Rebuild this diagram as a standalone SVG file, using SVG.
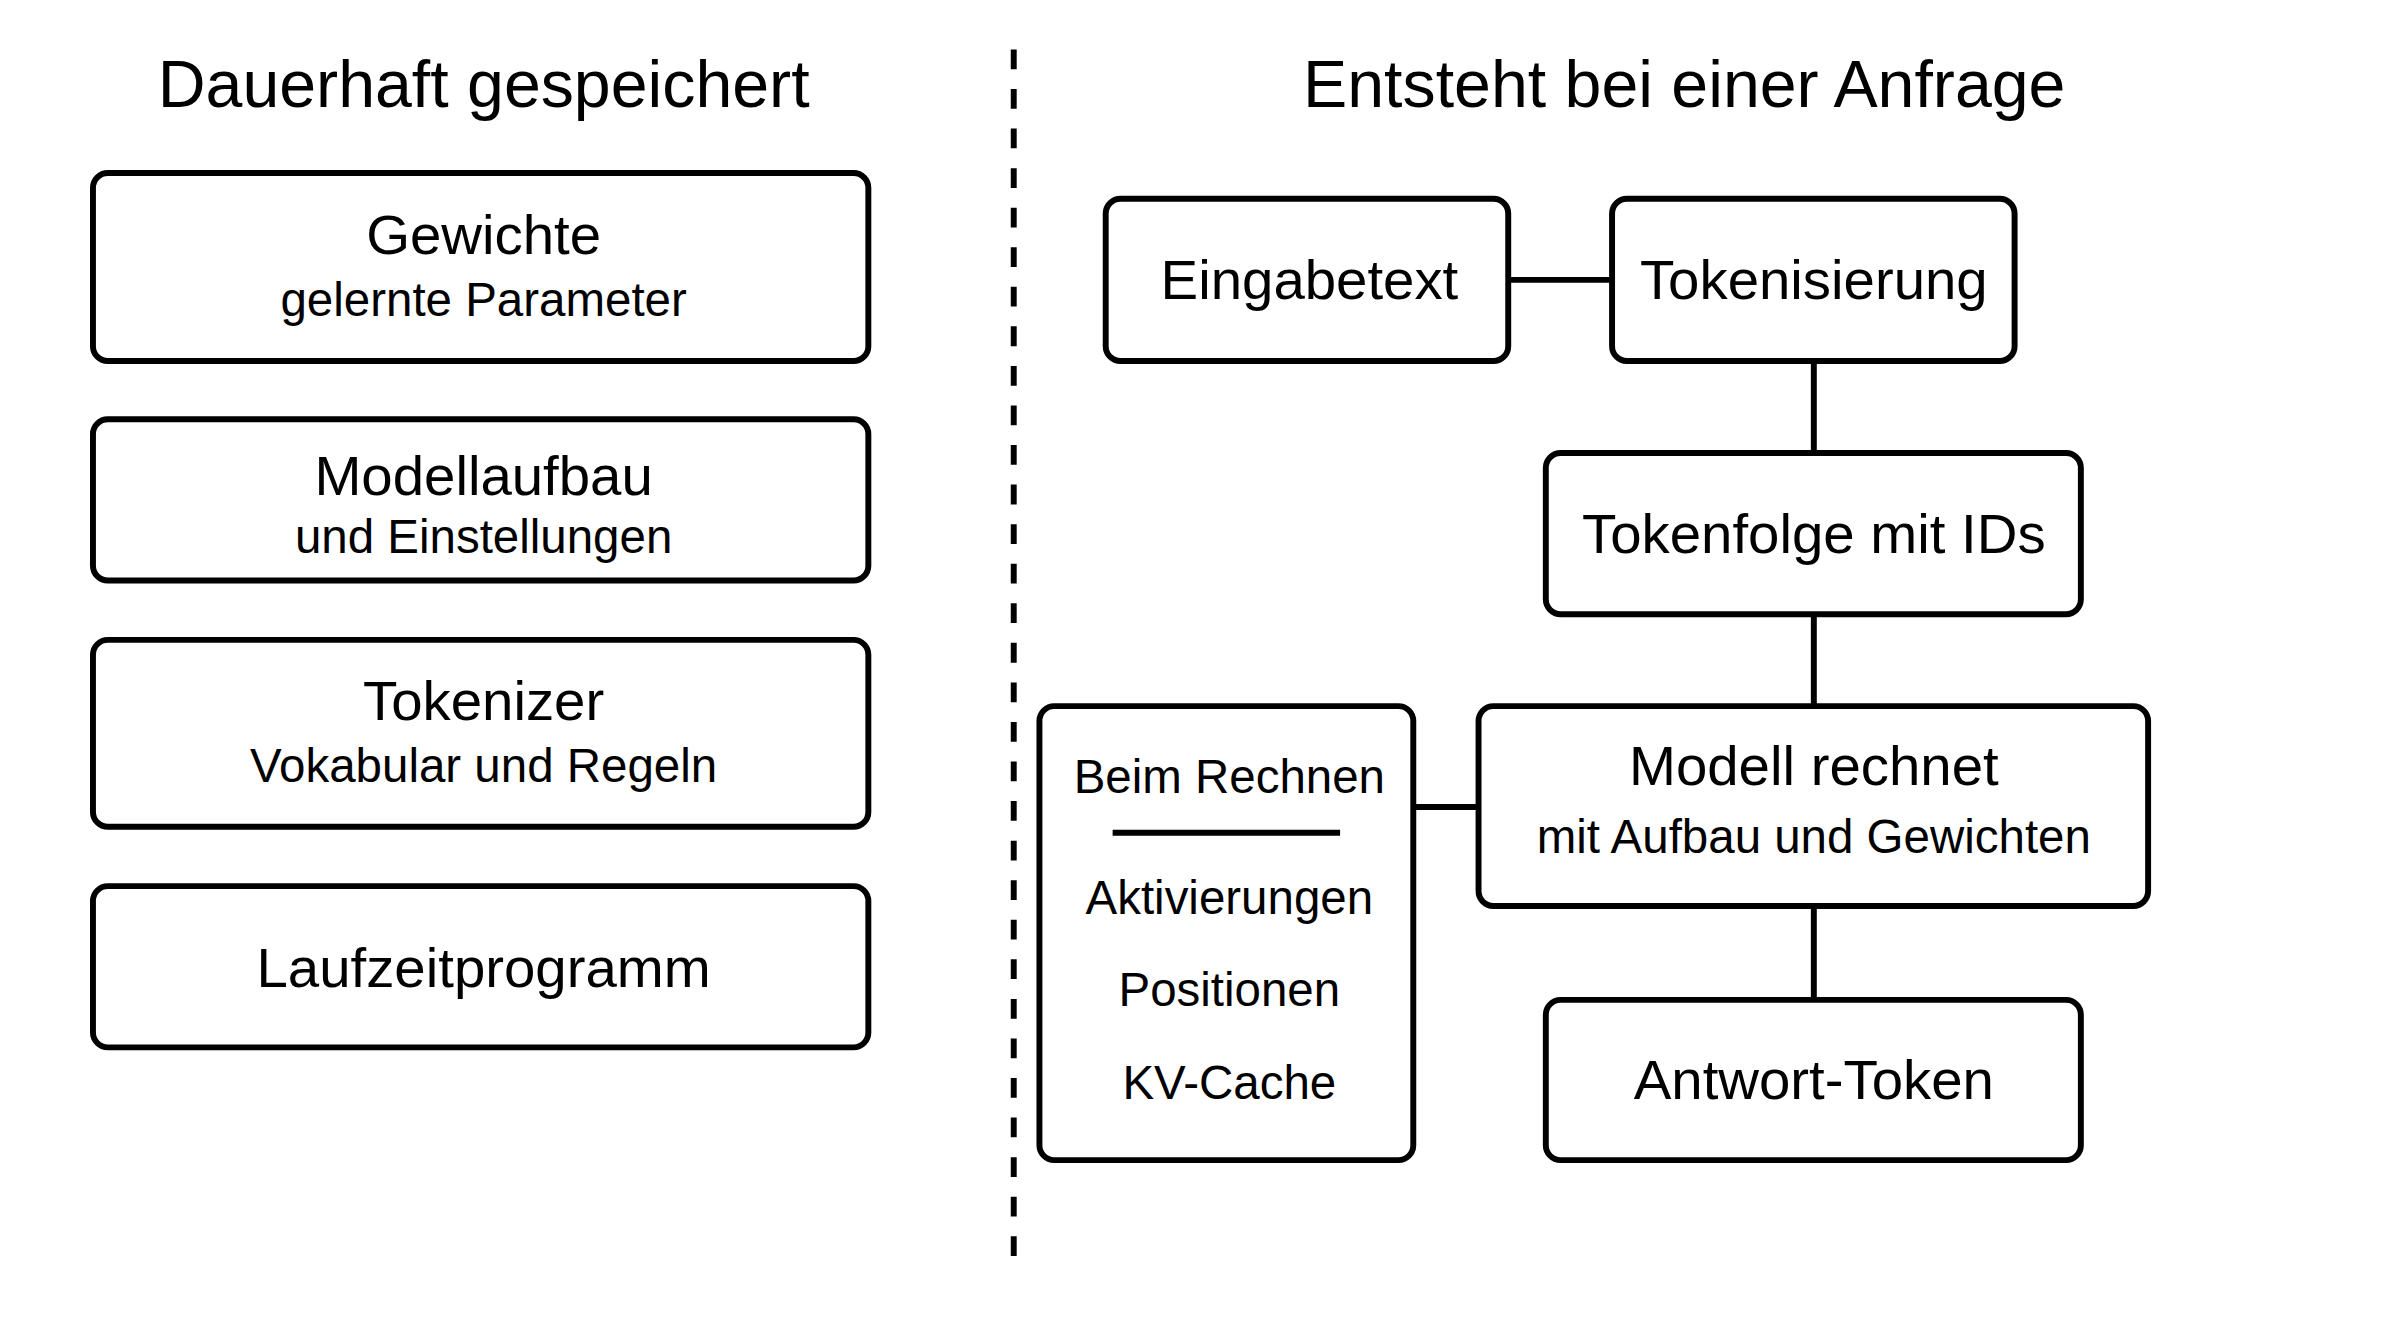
<svg xmlns="http://www.w3.org/2000/svg" width="2400" height="1333" viewBox="0 0 2400 1333">
<style>
text{font-family:"Liberation Sans",Arial,sans-serif;fill:#000;text-anchor:middle}
.t{font-size:67px}.m{font-size:57px}.s{font-size:48px}.r{font-size:48px}
rect{fill:#fff;stroke:#000;stroke-width:6}
line{stroke:#000;stroke-width:6}
</style>
<rect x="0" y="0" width="2400" height="1333" style="stroke:none"/>
<g transform="scale(0.989)">
<text class="t" x="489" y="108">Dauerhaft gespeichert</text>
<text class="t" x="1703" y="108">Entsteht bei einer Anfrage</text>
<line x1="1025" y1="50" x2="1025" y2="1279" stroke-dasharray="20,20"/>
<g id="connectors">
<line x1="1525" y1="283" x2="1630" y2="283"/>
<line x1="1834" y1="365" x2="1834" y2="458"/>
<line x1="1834" y1="621" x2="1834" y2="714"/>
<line x1="1429" y1="816" x2="1495" y2="816"/>
<line x1="1834" y1="916" x2="1834" y2="1011"/>
</g>
<g id="gewichte"><rect x="94" y="175" width="784" height="190" rx="15"/><text class="m" x="489" y="257">Gewichte</text><text class="s" x="489" y="320">gelernte Parameter</text></g>
<g id="modellaufbau"><rect x="94" y="424" width="784" height="163" rx="15"/><text class="m" x="489" y="500">Modellaufbau</text><text class="s" x="489" y="559">und Einstellungen</text></g>
<g id="tokenizer"><rect x="94" y="647" width="784" height="189" rx="15"/><text class="m" x="489" y="728">Tokenizer</text><text class="s" x="489" y="791">Vokabular und Regeln</text></g>
<g id="laufzeit"><rect x="94" y="896" width="784" height="163" rx="15"/><text class="m" x="489" y="998">Laufzeitprogramm</text></g>
<g id="eingabetext"><rect x="1118" y="201" width="407" height="164" rx="15"/><text class="m" x="1324" y="302">Eingabetext</text></g>
<g id="tokenisierung"><rect x="1630" y="201" width="407" height="164" rx="15"/><text class="m" x="1834" y="302">Tokenisierung</text></g>
<g id="tokenfolge"><rect x="1563" y="458" width="541" height="163" rx="15"/><text class="m" x="1834" y="559">Tokenfolge mit IDs</text></g>
<g id="modell"><rect x="1495" y="714" width="677" height="202" rx="15"/><text class="m" x="1834" y="794">Modell rechnet</text><text class="s" x="1834" y="862">mit Aufbau und Gewichten</text></g>
<g id="antwort"><rect x="1563" y="1011" width="541" height="162" rx="15"/><text class="m" x="1834" y="1111">Antwort-Token</text></g>
<g id="beim"><rect x="1051" y="714" width="378" height="459" rx="15"/><text class="r" x="1243" y="802">Beim Rechnen</text><line x1="1125" y1="842" x2="1355" y2="842"/><text class="r" x="1243" y="924">Aktivierungen</text><text class="r" x="1243" y="1017">Positionen</text><text class="r" x="1243" y="1111">KV-Cache</text></g>
</g>
</svg>
